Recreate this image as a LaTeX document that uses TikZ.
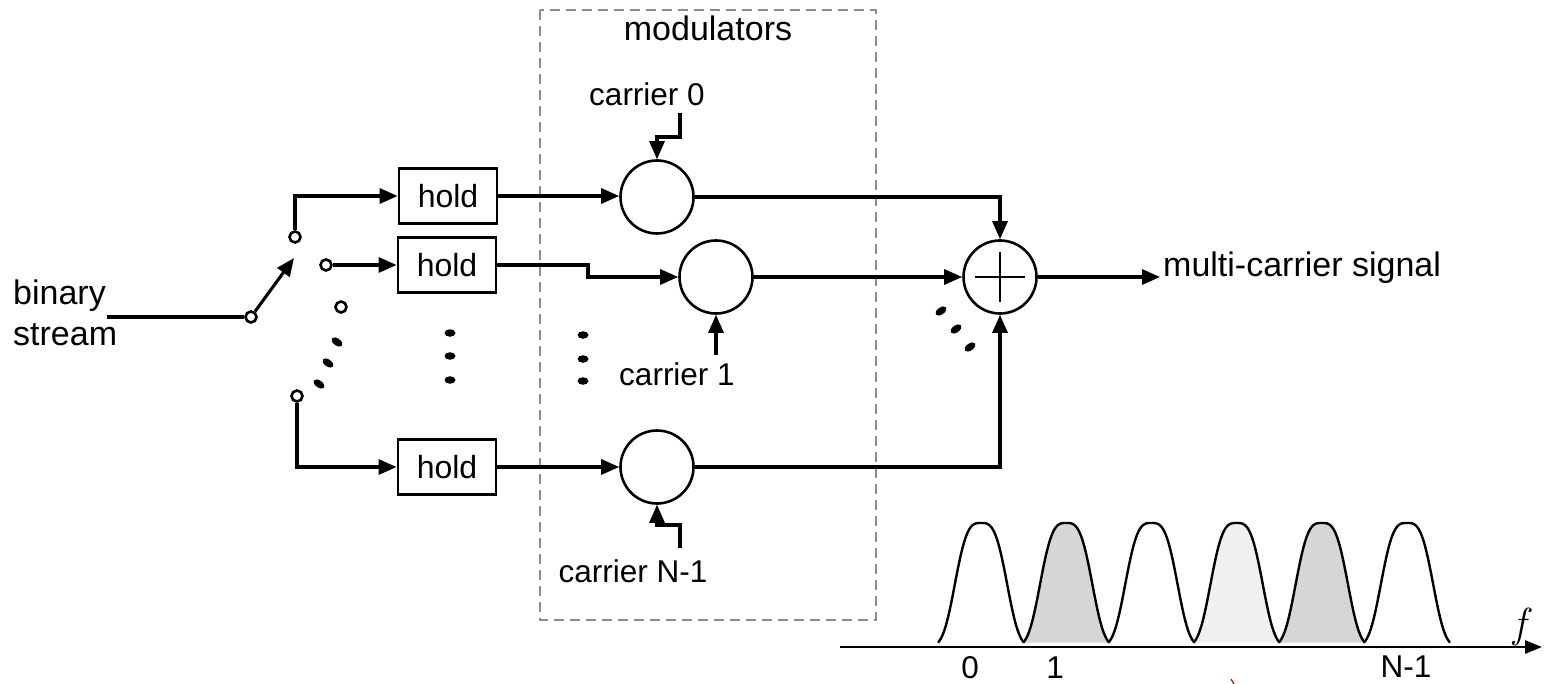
\documentclass[tikz,border=0pt]{standalone}
\usepackage{fontspec}
\setmainfont{Liberation Sans}
\usetikzlibrary{arrows.meta,shapes.geometric}
\begin{document}
\begin{tikzpicture}[x=1pt,y=-1pt,
  conn/.style={line width=3.1pt,-{Triangle[length=18pt,width=15pt]}},
  wire/.style={line width=3.1pt},
  holdbox/.style={draw,line width=2.8pt,minimum width=98pt,minimum height=55pt,inner sep=0pt,font=\fontsize{32}{36}\selectfont},
  mixer/.style={circle,draw,line width=2.6pt,minimum size=73pt,inner sep=0pt},
  contact/.style={circle,draw,fill=white,line width=2.6pt,minimum size=11pt,inner sep=0pt},
  lbl/.style={font=\fontsize{31.5}{36}\selectfont,inner sep=0pt},
  biglbl/.style={font=\fontsize{34}{38}\selectfont,inner sep=0pt},
  dotv/.style={ellipse,fill,minimum width=11pt,minimum height=7.5pt,inner sep=0pt},
  dotd/.style={ellipse,fill,minimum width=12.5pt,minimum height=7pt,inner sep=0pt},
  hump/.style={line width=2.4pt}
]
\useasboundingbox (0,0) rectangle (1546,684);

% modulators box
\draw[black!45,line width=2.2pt,dash pattern=on 10pt off 6pt] (540,10) rectangle (876,620);
\node[biglbl,anchor=base] (modt) at (708,41) {modulators};

% switch
\node[contact] (p) at (251,317) {};
\node[contact] (c1) at (295,237) {};
\node[contact] (c2) at (326,265) {};
\node[contact] (c3) at (341,307) {};
\node[contact] (cN) at (297,396) {};
\coordinate (arm) at (294,258);
\coordinate (in) at (107,317);
\node[biglbl,anchor=base west] (bin) at (13,305) {binary};
\node[biglbl,anchor=base west] (str) at (13,345) {stream};
\draw[wire] (in) -- (p);
\draw[conn] (p) -- (arm);
\node[dotd,rotate=-35] (sd1) at (337,342) {};
\node[dotd,rotate=-35] (sd2) at (328,363) {};
\node[dotd,rotate=-35] (sd3) at (319,384) {};

% hold boxes
\node[holdbox] (h1) at (448,196) {hold};
\node[holdbox] (h2) at (447,265) {hold};
\node[holdbox] (h3) at (447,467) {hold};
\draw[conn] (c1) |- (h1.west);
\draw[conn] (c2) -- (h2.west);
\draw[conn] (cN) |- (h3.west);

\node[dotv] (vd1) at (450,333) {};
\node[dotv] (vd2) at (450,356) {};
\node[dotv] (vd3) at (450,380) {};
\node[dotv] (wd1) at (583,335) {};
\node[dotv] (wd2) at (583,359) {};
\node[dotv] (wd3) at (583,381) {};

% modulators
\node[mixer] (m0) at (657,197) {};
\node[mixer] (m1) at (716,277) {};
\node[mixer] (mN) at (657,467) {};
\coordinate (jog) at (588,265);
\draw[conn] (h1.east) -- (h1.east -| m0.west);
\draw[conn] (h2.east) -- (jog) |- (m1.west);
\draw[conn] (h3.east) -- (h3.east -| mN.west);

% carriers
\node[lbl,anchor=base] (k0) at (647,106) {carrier 0};
\node[lbl,anchor=base] (k1) at (677,385) {carrier 1};
\node[lbl,anchor=base] (kN) at (633,582) {carrier N-1};
\coordinate (t0) at (680,113);
\coordinate (t1) at (716,355);
\coordinate (tN) at (680,548);
\draw[conn] (t0) -- ++(0,24) -| (m0.north);
\draw[conn] (t1) -- (m1.south);
\draw[conn] (tN) -- ++(0,-23) -| (mN.south);

% adder
\node[mixer] (ad) at (1000,277) {};
\draw[line width=1.8pt] ([xshift=-25pt]ad.center) -- ([xshift=25pt]ad.center)
  ([yshift=25pt]ad.center) -- ([yshift=-25pt]ad.center);
\draw[conn] (m0.east) -| (ad.north);
\draw[conn] (m1.east) -- (ad.west);
\draw[conn] (mN.east) -| (ad.south);
\coordinate (outc) at (1160,277);
\draw[conn] (ad.east) -- (outc);
\node[biglbl,anchor=base west] (outt) at (1163,277) {multi-carrier signal};
\node[dotd,rotate=35] (ad1) at (941,311) {};
\node[dotd,rotate=35] (ad2) at (956,329) {};
\node[dotd,rotate=35] (ad3) at (970,347) {};

% spectrum
\foreach \k/\fc in {0/white,1/black!16,2/white,3/black!6,4/black!16,5/white}{
  \pgfmathsetmacro{\xc}{981+85.2*\k}
  \fill[\fc] plot[domain=-43:43,samples=90] ({\xc+\x},{647-124*exp(-pow(abs(\x)/29.5+0.0001,3.2))}) -- cycle;
  \draw[hump] plot[domain=-43:43,samples=90] ({\xc+\x},{647-124*exp(-pow(abs(\x)/29.5+0.0001,3.2))});
}
\coordinate (ax0) at (840,647);
\coordinate (ax1) at (1542,647);
\draw[line width=2.8pt,-{Triangle[length=17pt,width=13pt]}] (ax0) -- (ax1);
\node[lbl,anchor=base] (f0) at (970,678) {0};
\node[lbl,anchor=base] (f1) at (1055,678) {1};
\node[lbl,anchor=base] (fN) at (1406,677) {N-1};
\node[anchor=base,inner sep=0pt] (fl) at (1520,637) {\fontfamily{lmr}\fontsize{42}{46}\selectfont\itshape f};
\draw[red!75!black,line width=1.2pt] (1231,679) -- (1234,684);
\end{tikzpicture}
\end{document}
